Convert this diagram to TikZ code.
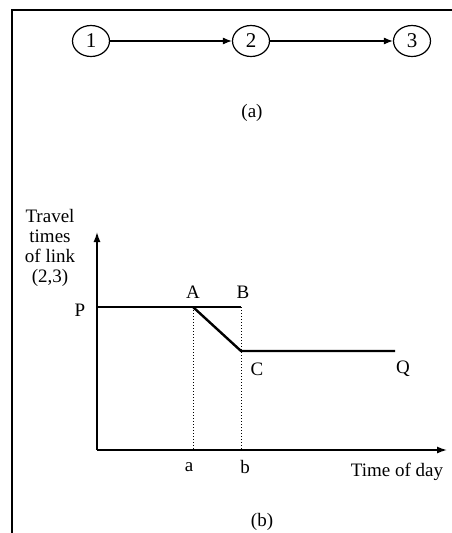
\documentclass[tikz,border=0pt]{standalone}
\usepackage{fontspec}
\setmainfont{Liberation Serif}
\usetikzlibrary{arrows.meta,shapes.geometric}
\begin{document}
\begin{tikzpicture}[x=1pt,y=-1pt,
  lbl/.style={font=\fontsize{19}{20}\selectfont, inner sep=0pt},
  circ/.style={draw, ellipse, minimum width=37pt, minimum height=31pt, inner sep=0pt, line width=1.2pt, font=\fontsize{21}{22}\selectfont},
  arr/.style={line width=1.1pt, -{Latex[length=9pt,width=7pt]}},
  axis/.style={line width=1.4pt, -{Latex[length=10pt,width=7pt]}},
  curve/.style={line width=2.4pt},
  guide/.style={line width=1pt, dotted}]
\useasboundingbox (0,0) rectangle (452,533);
% frame
\coordinate (fr2) at (452,10);
\coordinate (fr3) at (12,533);
\draw[line width=2pt] (fr3) -- (12,10) -- (fr2);
% part (a)
\node[circ] (n1) at (91,41) {1};
\node[circ] (n2) at (251,41) {2};
\node[circ] (n3) at (412,41) {3};
\draw[arr] (n1) -- (n2);
\draw[arr] (n2) -- (n3);
\node[lbl] (la) at (252,113) {(a)};
% part (b)
\coordinate (O) at (97,450);
\coordinate (Yt) at (97,232);
\coordinate (Xt) at (447,450);
\coordinate (P) at (97,307);
\coordinate (A) at (193,307);
\coordinate (B) at (241,307);
\coordinate (C) at (241,351);
\coordinate (Qe) at (395,351);
\coordinate (a0) at (193,450);
\coordinate (b0) at (241,450);
\draw[axis] (O) -- (Yt);
\draw[axis] (O) -- (Xt);
\draw[guide] (A) -- (a0);
\draw[guide] (B) -- (b0);
\draw[curve] (P) -- (B);
\draw[curve, line join=round] (A) -- (C) -- (Qe);
\node[lbl, align=center, font=\fontsize{19}{20}\selectfont] (ylab) at (50,248) {Travel\\times\\of link\\(2,3)};
\node[lbl] (lP) at (80,310) {P};
\node[lbl] (lA) at (193,292) {A};
\node[lbl] (lB) at (243,292) {B};
\node[lbl] (lC) at (257,369) {C};
\node[lbl] (lQ) at (403,369) {Q};
\node[lbl] (la2) at (189,467) {a};
\node[lbl] (lb2) at (245,467) {b};
\node[lbl] (xlab) at (397,472) {Time of day};
\node[lbl] (lb) at (262,522) {(b)};
\end{tikzpicture}
\end{document}
